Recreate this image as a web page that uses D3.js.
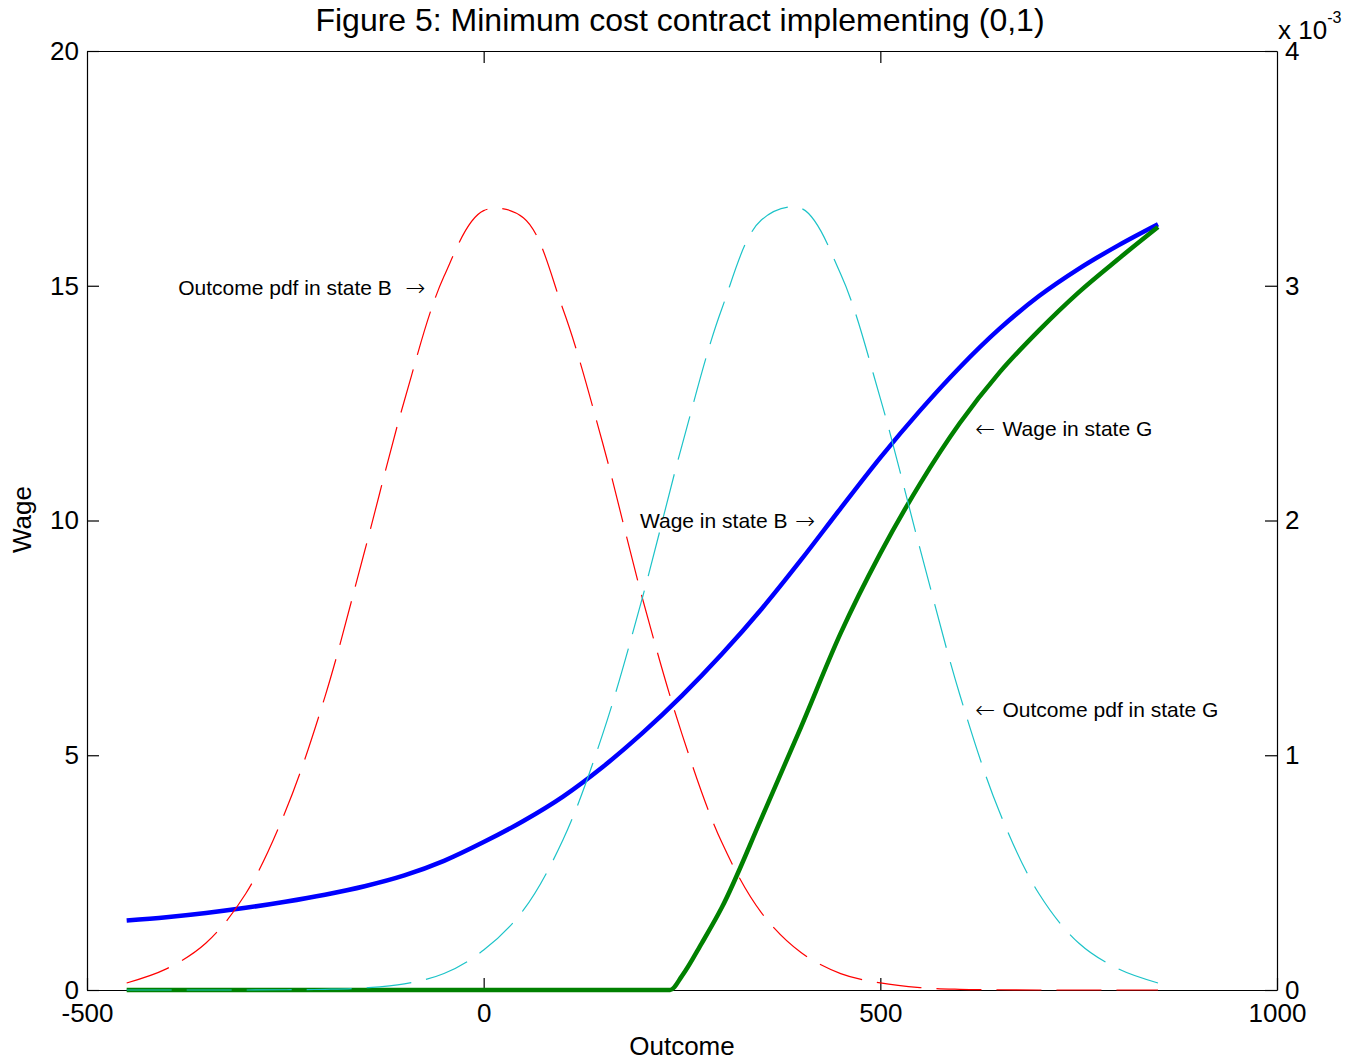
<!DOCTYPE html>
<html>
<head>
<meta charset="utf-8">
<script src="https://cdn.jsdelivr.net/npm/d3@7"></script>
<style>
  body { margin: 0; background: #fff; }
  text { font-family: "Liberation Sans", Arial, Helvetica, sans-serif; fill: #000; }
</style>
</head>
<body>
<div id="plt"></div>
<script>
// outcome grid and the series
var outcome = [-450, -400, -350, -300, -250, -200, -150, -100, -50, 0, 50, 100, 150,
               200, 250, 300, 350, 400, 450, 500, 550, 600, 650, 700, 750, 800, 850];

// pdfs, in units of 1e-3 (right axis)
var pdfB = [0.03, 0.09, 0.20, 0.41, 0.76, 1.25, 1.87, 2.51, 3.04, 3.32, 3.29, 2.90, 2.33,
            1.67, 1.09, 0.63, 0.33, 0.16, 0.07, 0.03, 0.01, 0.003, 0.001, 0, 0, 0, 0];
var pdfG = [0, 0, 0, 0, 0.001, 0.003, 0.009, 0.026, 0.07, 0.17, 0.34, 0.64, 1.09,
            1.67, 2.32, 2.90, 3.28, 3.33, 3.05, 2.52, 1.88, 1.26, 0.76, 0.41, 0.20, 0.09, 0.03];

// wage in state B (left axis), same grid
var wageB = [1.48, 1.55, 1.64, 1.75, 1.88, 2.03, 2.21, 2.44, 2.75, 3.15, 3.60, 4.12, 4.75,
             5.47, 6.27, 7.15, 8.11, 9.16, 10.26, 11.34, 12.34, 13.26, 14.08, 14.78, 15.36, 15.86, 16.31];

// wage in state G: zero up to about 235, then rising
var outcomeG = [-450, 235, 250, 275, 300, 350, 400, 450, 500, 550, 600, 650, 700, 750, 800, 850];
var wageG = [0, 0, 0.30, 1.00, 1.75, 3.65, 5.60, 7.60, 9.30, 10.78, 12.07, 13.15, 14.05, 14.86, 15.57, 16.25];

// tick labels
var xTicks = [-500, 0, 500, 1000];
var wageTicks = [0, 5, 10, 15, 20];
var pdfTicks = [0, 1, 2, 3, 4];

// set the dimensions and margins of the plot
var margin = {top: 51, right: 87, bottom: 73, left: 87};
var width = 1364 - margin.left - margin.right;
var height = 1063 - margin.top - margin.bottom;

var svg = d3.select("#plt")
            .append("svg")
            .attr("width", width + margin.left + margin.right)
            .attr("height", height + margin.top + margin.bottom)
            .append("g")
            .attr("transform", "translate(" + margin.left + "," + margin.top + ")");

var x = d3.scaleLinear().domain([-500, 1000]).range([0, width]);
var yL = d3.scaleLinear().domain([0, 20]).range([height, 0]);
var yR = d3.scaleLinear().domain([0, 4]).range([height, 0]);

var plain = function(d) { return String(d); };

// axes, ticks pointing inward
svg.append("g")
   .attr("class", "axis")
   .attr("transform", "translate(0," + height + ")")
   .call(d3.axisBottom(x).tickValues(xTicks).tickSizeInner(-12).tickSizeOuter(0)
           .tickPadding(14).tickFormat(plain));

svg.append("g")
   .attr("class", "axis")
   .call(d3.axisTop(x).tickValues([0, 500]).tickSizeInner(-12).tickSizeOuter(0).tickFormat(""));

svg.append("g")
   .attr("class", "axis")
   .call(d3.axisLeft(yL).tickValues(wageTicks).tickSizeInner(-12).tickSizeOuter(0)
           .tickPadding(8).tickFormat(plain));

svg.append("g")
   .attr("class", "axis")
   .attr("transform", "translate(" + width + ",0)")
   .call(d3.axisRight(yR).tickValues(pdfTicks).tickSizeInner(-12).tickSizeOuter(0)
           .tickPadding(8).tickFormat(plain));

svg.selectAll(".axis path, .axis line")
   .attr("stroke", "#000")
   .attr("stroke-width", 1.2);
svg.selectAll(".axis text")
   .attr("font-size", 26)
   .attr("font-family", "'Liberation Sans', Arial, sans-serif")
   .attr("fill", "#000");

// multiplier of the right axis
var mult = svg.append("text")
   .attr("x", 1191)
   .attr("y", -12)
   .attr("font-size", 26)
   .text("x 10");
mult.append("tspan")
   .attr("font-size", 16)
   .attr("dy", -16)
   .text("-3");

// curves
var wagePath = function(xs, vals) {
  return d3.line()
           .x(function(d, i) { return x(xs[i]); })
           .y(function(d) { return yL(d); })
           .curve(d3.curveMonotoneX)(vals);
};
var pdfPath = function(vals) {
  return d3.line()
           .x(function(d, i) { return x(outcome[i]); })
           .y(function(d) { return yR(d); })
           .curve(d3.curveCatmullRom)(vals);
};

svg.append("path")
   .attr("d", wagePath(outcome, wageB))
   .attr("fill", "none")
   .attr("stroke", "#0000ff")
   .attr("stroke-width", 4.5);

svg.append("path")
   .attr("d", wagePath(outcomeG, wageG))
   .attr("fill", "none")
   .attr("stroke", "#008000")
   .attr("stroke-width", 4.5);

svg.append("path")
   .attr("d", pdfPath(pdfB))
   .attr("fill", "none")
   .attr("stroke", "#ff0000")
   .attr("stroke-width", 1.2)
   .attr("stroke-dasharray", "45,15");

svg.append("path")
   .attr("d", pdfPath(pdfG))
   .attr("fill", "none")
   .attr("stroke", "#1cc3c8")
   .attr("stroke-width", 1.2)
   .attr("stroke-dasharray", "45,15");

// annotations (positions in outcome / wage units)
var notes = [
  {text: "Outcome pdf in state B", x: -385, y: 14.80},
  {text: "Wage in state B", x: 197, y: 9.84},
  {text: "Wage in state G", x: 654, y: 11.80},
  {text: "Outcome pdf in state G", x: 654, y: 5.81}
];
var arrows = [
  {text: "→", x: -99, y: 14.80},
  {text: "→", x: 392.5, y: 9.84},
  {text: "←", x: 619.5, y: 11.80},
  {text: "←", x: 619.5, y: 5.81}
];

svg.selectAll("text.note")
   .data(notes)
   .enter()
   .append("text")
   .attr("class", "note")
   .attr("x", function(d) { return x(d.x); })
   .attr("y", function(d) { return yL(d.y); })
   .attr("font-size", 21)
   .text(function(d) { return d.text; });

svg.selectAll("text.arrow")
   .data(arrows)
   .enter()
   .append("text")
   .attr("class", "arrow")
   .attr("x", function(d) { return x(d.x); })
   .attr("y", function(d) { return yL(d.y) + 1; })
   .attr("font-size", 24)
   .attr("font-weight", 200)
   .style("font-family", "'DejaVu Sans', sans-serif")
   .text(function(d) { return d.text; });

// titles
svg.append("text")
   .attr("x", width / 2 - 2)
   .attr("y", -20)
   .attr("text-anchor", "middle")
   .attr("font-size", 32)
   .text("Figure 5: Minimum cost contract implementing (0,1)");

svg.append("text")
   .attr("x", width / 2)
   .attr("y", height + 65)
   .attr("text-anchor", "middle")
   .attr("font-size", 26)
   .text("Outcome");

svg.append("text")
   .attr("transform", "translate(-56," + (height / 2 - 1) + ")rotate(-90)")
   .attr("text-anchor", "middle")
   .attr("font-size", 26)
   .text("Wage");
</script>
</body>
</html>
